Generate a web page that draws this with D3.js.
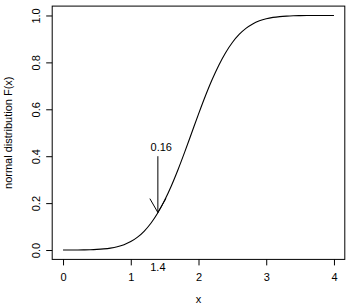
<!DOCTYPE html>
<html><head><meta charset="utf-8">
<script src="https://cdn.jsdelivr.net/npm/d3@7"></script>
<style>body{margin:0;background:#fff}svg{display:block}text{font-family:"Liberation Sans",Arial,sans-serif;font-size:11px;fill:#000}</style>
</head><body>
<script>
const xs = [0,0.1,0.2,0.3,0.4,0.5,0.6,0.7,0.8,0.9,1.0,1.1,1.2,1.3,1.4,1.5,1.6,1.7,1.8,1.9,2.0,2.1,2.2,2.3,2.4,2.5,2.6,2.7,2.8,2.9,3.0,3.1,3.2,3.3,3.4,3.5,3.6,3.7,3.8,3.9,4.0];
const Fx = [0.0001,0.0002,0.0003,0.0007,0.0013,0.0026,0.0047,0.0082,0.0139,0.0228,0.0359,0.0548,0.0808,0.1151,0.1587,0.2119,0.2743,0.3446,0.4207,0.5,0.5793,0.6554,0.7257,0.7881,0.8413,0.8849,0.9192,0.9452,0.9641,0.9772,0.9861,0.9918,0.9953,0.9974,0.9987,0.9993,0.9997,0.9998,0.9999,1.0,1.0];
const xTicks = [0,1,2,3,4];
const yTicks = [0,0.2,0.4,0.6,0.8,1.0];
const markX = 1.4, markY = 0.16, arrowFromY = 0.4;
const markLabel = "0.16", markTickLabel = "1.4";
const labelPos = [1.45, 0.44];
const yTitle = "normal distribution F(x)", xTitle = "x";

const W=348,H=304;
const svg=d3.select("body").append("svg").attr("width",W).attr("height",H);
const x=d3.scaleLinear().domain([-0.16,4.16]).range([52.2,344.8]);
const y=d3.scaleLinear().domain([-0.04,1.04]).range([259.4,6.1]);
const [x0,x1]=x.range(), [yb,yt]=y.range();

svg.append("rect").attr("x",x0).attr("y",yt).attr("width",x1-x0).attr("height",yb-yt)
  .attr("fill","none").attr("stroke","#000").attr("stroke-width",1);

const gx=svg.append("g").attr("transform",`translate(0,${yb})`)
  .call(d3.axisBottom(x).tickValues(xTicks).tickFormat(d3.format("d")).tickSize(6).tickPadding(8));
gx.select(".domain").remove();
gx.selectAll("text").style("font-size","11px").style("font-family","Liberation Sans, Arial, sans-serif");

const gy=svg.append("g").attr("transform",`translate(${x0},0)`)
  .call(d3.axisLeft(y).tickValues(yTicks).tickFormat(d3.format(".1f")).tickSize(6).tickPadding(0));
gy.select(".domain").remove();
gy.selectAll("text").attr("x",null).attr("dy",null)
  .attr("transform",d=>`translate(-16,0) rotate(-90)`).attr("text-anchor","middle").attr("dy","0.35em")
  .style("font-size","11px").style("font-family","Liberation Sans, Arial, sans-serif");

svg.append("text").attr("transform",`translate(12,${(yt+yb)/2}) rotate(-90)`).attr("text-anchor","middle").text(yTitle);
svg.append("text").attr("x",(x0+x1)/2).attr("y",303).attr("text-anchor","middle").text(xTitle);

const line=d3.line().x((d,i)=>x(xs[i])).y(d=>y(d)).curve(d3.curveMonotoneX);
svg.append("path").attr("d",line(Fx)).attr("fill","none").attr("stroke","#000").attr("stroke-width",1.1);

// arrow
const tx=x(markX), ty=y(markY), sy=y(arrowFromY);
svg.append("line").attr("x1",tx).attr("y1",sy).attr("x2",tx).attr("y2",ty).attr("stroke","#000");
const hl=16, ang=Math.PI/6;
[-1,1].forEach(s=>{
  svg.append("line").attr("x1",tx).attr("y1",ty)
    .attr("x2",tx+s*hl*Math.sin(ang)).attr("y2",ty-hl*Math.cos(ang)).attr("stroke","#000");
});
svg.append("text").attr("x",x(labelPos[0])).attr("y",y(labelPos[1])).attr("dy","0.35em").attr("text-anchor","middle").text(markLabel);
svg.append("text").attr("x",tx).attr("y",271).attr("text-anchor","middle").text(markTickLabel);
</script>
</body></html>
